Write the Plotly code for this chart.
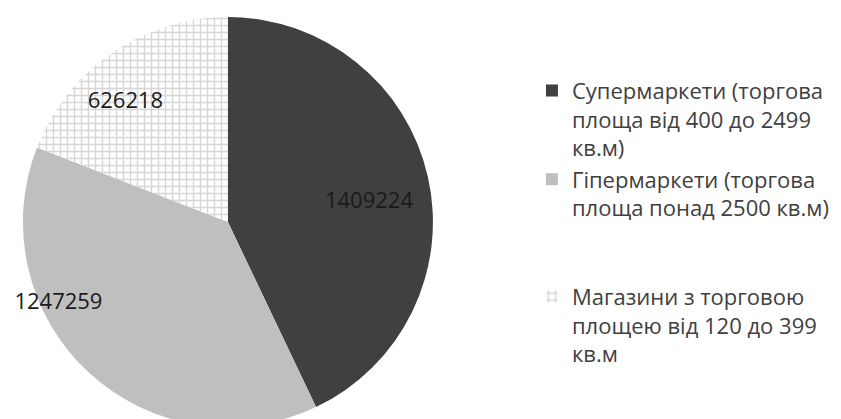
import plotly.graph_objects as go

labels = [
    "Супермаркети (торгова<br>площа від 400 до 2499<br>кв.м)",
    "Гіпермаркети (торгова<br>площа понад 2500 кв.м)<br> <br> ",
    "Магазини з торговою<br>площею від 120 до 399<br>кв.м",
]
values = [1409224, 1247259, 626218]
colors = ["#404040", "#bfbfbf", "#ffffff"]
shapes = ["", "", "+"]
NB = "\u00a0"
templates = [
    NB * 14 + "%{value:d}",
    "%{value:d}" + NB * 34,
    "%{value:d}" + NB * 10 + "<br>" + NB,
]

fig = go.Figure(go.Pie(
    labels=labels,
    values=values,
    sort=False,
    direction="clockwise",
    rotation=0,
    texttemplate=templates,
    textposition="inside",
    insidetextorientation="horizontal",
    insidetextfont=dict(family="Open Sans", size=22, color="#1a1a1a"),
    marker=dict(
        colors=colors,
        line=dict(width=0),
        pattern=dict(shape=shapes, fgcolor="#d6d6d6", bgcolor="#ffffff", size=7, solidity=0.35),
    ),
    domain=dict(x=[0.013, 0.51], y=[0.0, 0.9785]),
    hoverinfo="skip",
))

fig.update_layout(
    width=841, height=419,
    margin=dict(l=0, r=0, t=0, b=0),
    paper_bgcolor="white",
    plot_bgcolor="white",
    showlegend=True,
    uniformtext=dict(minsize=22, mode="show"),
    legend=dict(
        x=0.623, y=0.853, xanchor="left", yanchor="top",
        valign="top",
        font=dict(family="Open Sans", size=22, color="#404040"),
        itemwidth=30,
        bgcolor="rgba(0,0,0,0)",
    ),
)

fig.write_html("out.html")
